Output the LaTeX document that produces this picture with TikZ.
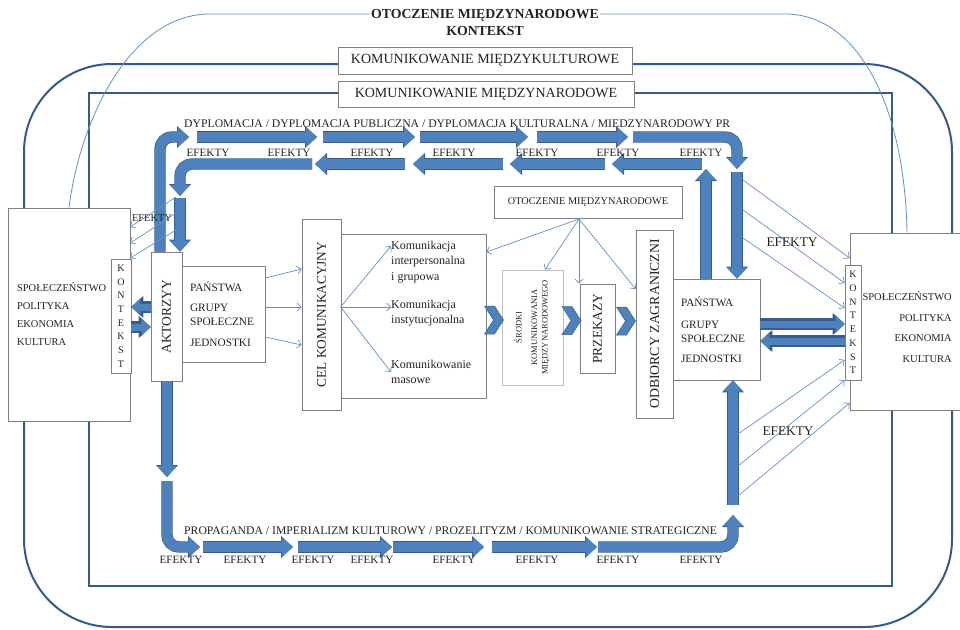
\documentclass[tikz,border=0pt]{standalone}
\usepackage{fontspec}
\setmainfont{Liberation Serif}
\usepackage{graphicx}
\usetikzlibrary{arrows.meta}
\definecolor{flowfill}{RGB}{79,129,189}
\definecolor{flowedge}{RGB}{56,93,138}
\definecolor{thinblue}{RGB}{96,145,205}
\definecolor{frameblue}{RGB}{52,90,140}
\definecolor{boxgray}{RGB}{128,128,128}
\definecolor{lightgray}{RGB}{190,190,190}
\definecolor{inkgray}{RGB}{35,35,35}
\newcommand{\fsz}[2]{\fontsize{#1}{#2}\selectfont}
\tikzset{
    box/.style={draw=boxgray, fill=white, line width=0.7pt, inner sep=0pt, text=inkgray},
    hdrbox/.style={box, font=\fsz{14}{16}},
    vbox/.style={box, font=\fsz{13.5}{15}},
    efekt/.style={text=inkgray, font=\fsz{11.2}{13}, inner sep=0pt},
    lanetext/.style={text=inkgray, font=\fsz{11.7}{13}, inner sep=0pt, anchor=west},
    komtext/.style={text=inkgray, font=\fsz{12}{15.5}, inner sep=0pt, anchor=west, align=left},
    kontekst/.style={box, align=center, font=\fsz{10}{13.7}},
    flow/.style={draw=flowfill, line width=10pt, rounded corners=12pt,
        -{Triangle[length=11pt,width=20pt,line width=0pt]},
        preaction={draw=flowedge, line width=11.4pt, -{Triangle[length=12pt,width=22pt,line width=0pt]}}},
    sideflow/.style={flow, line width=7pt,
        -{Triangle[length=9pt,width=17pt,line width=0pt]},
        preaction={draw=flowedge, line width=8.2pt, -{Triangle[length=10pt,width=19pt,line width=0pt]}}},
    ctx/.style={draw=thinblue, line width=0.7pt, -{Straight Barb[length=4pt,width=8pt]}},
    ctxline/.style={draw=thinblue, line width=0.8pt},
    chev/.pic={
        \filldraw[fill=flowfill, draw=flowedge, line width=0.5pt]
            (-10,-14) -- (0,-14) -- (9,0) -- (0,14) -- (-10,14) -- (-1,0) -- cycle;
    }
}

\begin{document}
\begin{tikzpicture}[x=1pt, y=-1pt]
    \useasboundingbox (0,0) rectangle (960,629);
    \clip (0,0) rectangle (960,629);

    % frames
    \draw[frameblue, line width=2pt, rounded corners=88pt] (24,64) rectangle (952,627);
    \draw[frameblue, line width=1.6pt] (89,93) rectangle (892,586);

    \node[text=inkgray, font=\bfseries\fsz{13.8}{17}, align=center, inner sep=1pt] (title) at (485,22)
        {OTOCZENIE MIĘDZYNARODOWE\\KONTEKST};
    \node[hdrbox, minimum width=294pt, minimum height=27pt] (kmk) at (485,60.5) {KOMUNIKOWANIE MIĘDZYKULTUROWE};
    \node[hdrbox, minimum width=296pt, minimum height=26pt] (kmn) at (486,94) {KOMUNIKOWANIE MIĘDZYNARODOWE};

    % left side
    \node[box, minimum width=122pt, minimum height=213pt, text width=104pt, align=left, font=\fsz{10.5}{12.5}] (lsoc) at (69,314.5)
        {SPOŁECZEŃSTWO\\[5.5pt]POLITYKA\\[5.5pt]EKONOMIA\\[5.5pt]KULTURA};
    \node[kontekst, minimum width=20pt, minimum height=114pt] (lkon) at (121,316) {K\\O\\N\\T\\E\\K\\S\\T};
    \node[vbox, minimum width=31pt, minimum height=129pt] (akt) at (166.5,316.5) {\rotatebox{90}{AKTORZYY}};
    \node[box, minimum width=83pt, minimum height=96pt, text width=67pt, align=left, font=\fsz{11.3}{13.5}] (lpan) at (223.5,314)
        {PAŃSTWA\\[6.5pt]GRUPY\\SPOŁECZNE\\[7.5pt]JEDNOSTKI};

    % middle
    \node[vbox, font=\fsz{13.3}{15}, minimum width=39pt, minimum height=191pt] (cel) at (321.5,314.5) {\rotatebox{90}{CEL KOMUNIKACYJNY}};
    \node[box, minimum width=145pt, minimum height=164pt] (kom) at (413.5,316) {};
    \node[komtext] (k1) at (391,262) {Komunikacja\\interpersonalna\\i grupowa};
    \node[komtext] (k2) at (391,313) {Komunikacja\\instytucjonalna};
    \node[komtext] (k3) at (391,372) {Komunikowanie\\masowe};
    \node[box, draw=lightgray, minimum width=61pt, minimum height=115pt, font=\fsz{8.5}{10.5}] (srod) at (532.5,327.5)
        {\rotatebox{90}{\begin{tabular}{@{}c@{}}ŚRODKI\\[5pt]KOMUNIKOWANIA\\MIĘDZYNARODOWEGO\end{tabular}}};
    \node[vbox, minimum width=35pt, minimum height=89pt] (prz) at (597.5,328.5) {\rotatebox{90}{PRZEKAZY}};
    \node[vbox, font=\fsz{13.8}{15}, minimum width=37pt, minimum height=188pt] (odb) at (654.5,324) {\rotatebox{90}{ODBIORCY ZAGRANICZNI}};
    \node[box, minimum width=188pt, minimum height=32pt, font=\fsz{10.3}{12}] (otm) at (588,202) {OTOCZENIE MIĘDZYNARODOWE};

    % right side
    \node[box, minimum width=87pt, minimum height=101pt, text width=71pt, align=left, font=\fsz{11.3}{14}] (rpan) at (716.5,329.5)
        {PAŃSTWA\\[8pt]GRUPY\\SPOŁECZNE\\[6pt]JEDNOSTKI};
    \node[box, minimum width=125pt, minimum height=177pt] (rsoc) at (912.5,321.5) {};
    \node[text=inkgray, anchor=east, align=right, inner sep=0pt, font=\fsz{10.5}{12.5}] (rsoctxt) at (952,327)
        {SPOŁECZEŃSTWO\\[8pt]POLITYKA\\[8pt]EKONOMIA\\[8pt]KULTURA};
    \node[kontekst, minimum width=16pt, minimum height=115pt] (rkon) at (853,322.5) {K\\O\\N\\T\\E\\K\\S\\T};

    % context lines
    \draw[ctxline] (title.west |- 0,14) -- (210,14) .. controls (130,14) and (80,120) .. (lsoc.north);
    \draw[ctxline] (title.east |- 0,14) -- (785,14) .. controls (860,14) and (905,110) .. (rsoc.north -| 907,0);

    % upper lane
    \node[lanetext] (dypl) at (184,125)
        {DYPLOMACJA / DYPLOMACJA PUBLICZNA / DYPLOMACJA KULTURALNA / MIĘDZYNARODOWY PR};
    \draw[flow] (akt.north -| 160,0) -- (160,137) -- (189,137);
    \foreach \a/\b in {197/317,323/415,420/528,537/628}
        \draw[flow] (\a,137) -- (\b,137);
    \draw[flow] (633,137) -- (737,137) -- (737,169);
    \draw[flow] (737,172) -- (rpan.north -| 737,0);
    \draw[flow] (rpan.north -| 706,0) -- (706,169);
    \foreach \a/\b in {702/612,605/510,503/413,405/315}
        \draw[flow] (\a,164) -- (\b,164);
    \draw[flow] (312,164) -- (180,164) -- (180,196);
    \draw[flow] (180,198) -- (akt.north -| 180,0);
    \foreach \x [count=\i] in {208,289,372,454,537,618,701}
        \node[efekt] (et\i) at (\x,153) {EFEKTY};

    % lower lane
    \node[lanetext] (prop) at (184,531)
        {PROPAGANDA / IMPERIALIZM KULTUROWY / PROZELITYZM / KOMUNIKOWANIE STRATEGICZNE};
    \draw[flow] (akt.south -| 167,0) -- (167,477);
    \draw[flow] (167,481) -- (167,547) -- (200,547);
    \foreach \a/\b in {203/293,298/392,393/484,492/597}
        \draw[flow] (\a,547) -- (\b,547);
    \draw[flow] (598,547) -- (733,547) -- (733,515);
    \draw[flow] (733,505) -- (rpan.south -| 733,0);
    \foreach \x [count=\i] in {181,245,313,372,454,537,618,701}
        \node[efekt] (eb\i) at (\x,560) {EFEKTY};

    % side arrows
    \draw[sideflow] (akt.west |- 0,307) -- (lkon.east |- 0,307);
    \draw[sideflow] (lkon.east |- 0,327) -- (akt.west |- 0,327);
    \draw[sideflow] (rpan.east |- 0,324) -- (rkon.west |- 0,324);
    \draw[sideflow] (rkon.west |- 0,341) -- (rpan.east |- 0,341);

    % chevrons
    \pic at (494.5,320) {chev};
    \pic at (572,320.5) {chev};
    \pic at (626.5,321) {chev};

    % thin arrows
    \foreach \a/\b in {278/269,307/307,337/345}
        \draw[ctx] (lpan.east |- 0,\a) -- (cel.west |- 0,\b);
    \coordinate (fan) at (kom.west |- 0,307);
    \draw[ctx] (fan) -- (k1.west |- 0,246);
    \draw[ctx] (fan) -- (k2.west |- 0,307);
    \draw[ctx] (fan) -- (k3.west);
    \coordinate (osrc) at (579,219);
    \draw[ctx] (osrc) -- (kom.east |- 0,252);
    \draw[ctx] (osrc) -- (srod.north -| 545,0);
    \draw[ctx] (osrc) -- (prz.north -| osrc);
    \draw[ctx] (osrc) -- (odb.west |- 0,289);

    \foreach \a/\b in {197/227,213/243,230/258}
        \draw[ctx] (176,\a) -- (lsoc.east |- 0,\b);
    \node[efekt, font=\fsz{10.4}{12}] (efl) at (152,218) {EFEKTY};

    \draw[ctx] (743,180) -- (rsoc.west |- 0,258);
    \draw[ctx] (743,210) -- (rkon.west |- 0,283);
    \draw[ctx] (743,238) -- (rkon.west |- 0,308);
    \node[efekt, font=\fsz{13.3}{15}] (efru) at (792,242) {EFEKTY};

    \draw[ctx] (738,434) -- (rkon.west |- 0,360);
    \draw[ctx] (738,466) -- (rkon.south west);
    \draw[ctx] (738,496) -- (rsoc.west |- 0,403);
    \node[efekt, font=\fsz{13.3}{15}] (efrd) at (788,431) {EFEKTY};
\end{tikzpicture}
\end{document}
